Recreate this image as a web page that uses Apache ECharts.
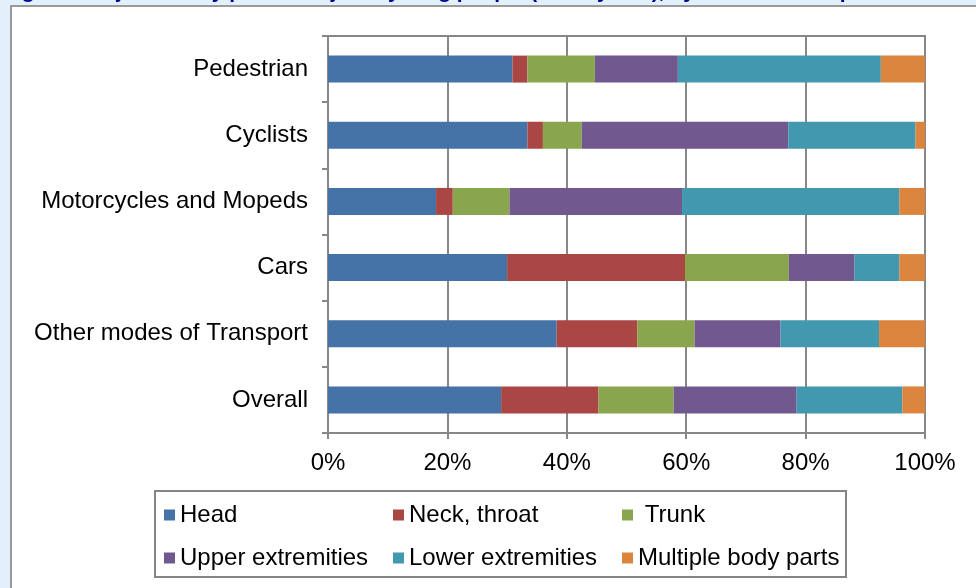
<!DOCTYPE html>
<html>
<head>
<meta charset="utf-8">
<script src="https://cdn.jsdelivr.net/npm/echarts@6/dist/echarts.min.js"></script>
<style>
html,body{margin:0;padding:0;background:#e2f0fb;}
#chart{width:976px;height:588px;}
</style>
</head>
<body>
<div id="chart"></div>
<script>
const categories = ['Pedestrian', 'Cyclists', 'Motorcycles and Mopeds', 'Cars', 'Other modes of Transport', 'Overall'];
const seriesNames = ['Head', 'Neck, throat', ' Trunk', 'Upper extremities', 'Lower extremities', 'Multiple body parts'];
const head     = [30.9, 33.4, 18.1, 30.0, 38.3, 29.0];
const neck     = [2.5, 2.6, 2.8, 29.8, 13.5, 16.3];
const trunk    = [11.3, 6.5, 9.5, 17.4, 9.6, 12.6];
const upper    = [13.9, 34.6, 28.9, 11.0, 14.4, 20.6];
const lower    = [34.0, 21.3, 36.4, 7.5, 16.5, 17.7];
const multiple = [7.4, 1.6, 4.3, 4.3, 7.7, 3.8];
const tickLabels = ['0%', '20%', '40%', '60%', '80%', '100%'];
const titleText = 'Figure 6: Injured body parts of injured young people (15-24 years), by mode of transport';

const values = [head, neck, trunk, upper, lower, multiple];
const colors = ['#4572A7', '#AA4643', '#89A54E', '#71588F', '#4198AF', '#DB843D'];
const FONT = '"Liberation Sans", Arial, sans-serif';

const chart = echarts.init(document.getElementById('chart'), null, {renderer: 'canvas'});

const legendLeft = [164, 393, 622];
const legendTop = [503, 546];

const option = {
  backgroundColor: 'transparent',
  animation: false,
  graphic: [
    {type: 'rect', z: -10, shape: {x: 11, y: 6, width: 975, height: 590},
     style: {fill: '#ffffff', stroke: '#9a9a9a', lineWidth: 2}},
    {type: 'text', z: 10, x: 3, y: 2.5,
     style: {text: titleText, fill: '#000099', font: 'bold 21px ' + FONT, verticalAlign: 'bottom'}},
    {type: 'rect', z: 5, shape: {x: 155, y: 491, width: 691, height: 86},
     style: {fill: 'none', stroke: '#858585', lineWidth: 2}}
  ],
  grid: {left: 328, right: 51, top: 36, bottom: 155, show: true, borderColor: '#878787', borderWidth: 2, backgroundColor: 'transparent'},
  legend: seriesNames.map((n, i) => ({
    data: [n],
    left: legendLeft[i % 3],
    top: legendTop[Math.floor(i / 3)],
    icon: 'rect',
    itemWidth: 11,
    itemHeight: 11,
    selectedMode: false,
    padding: 0,
    textStyle: {fontSize: 24, color: '#000', fontFamily: FONT}
  })),
  xAxis: {
    type: 'value',
    min: 0,
    max: 100,
    interval: 20,
    axisLine: {show: true, lineStyle: {color: '#878787', width: 2}},
    axisTick: {show: true, length: 6, lineStyle: {color: '#878787', width: 2}},
    splitLine: {show: true, lineStyle: {color: '#878787', width: 2}},
    axisLabel: {
      margin: 18,
      fontSize: 24,
      color: '#000',
      fontFamily: FONT,
      formatter: function (v) { return tickLabels[Math.round(v / 20)]; }
    }
  },
  yAxis: {
    type: 'category',
    data: categories,
    inverse: true,
    axisLine: {show: true, lineStyle: {color: '#878787', width: 2}},
    axisTick: {show: true, length: 6, alignWithLabel: false, lineStyle: {color: '#878787', width: 2}},
    splitLine: {show: false},
    axisLabel: {margin: 20, fontSize: 24, color: '#000', fontFamily: FONT}
  },
  series: seriesNames.map((n, i) => ({
    name: n,
    type: 'bar',
    stack: 'total',
    barWidth: 27,
    data: values[i],
    itemStyle: {color: colors[i]},
    emphasis: {disabled: true}
  }))
};
chart.setOption(option);
</script>
</body>
</html>
